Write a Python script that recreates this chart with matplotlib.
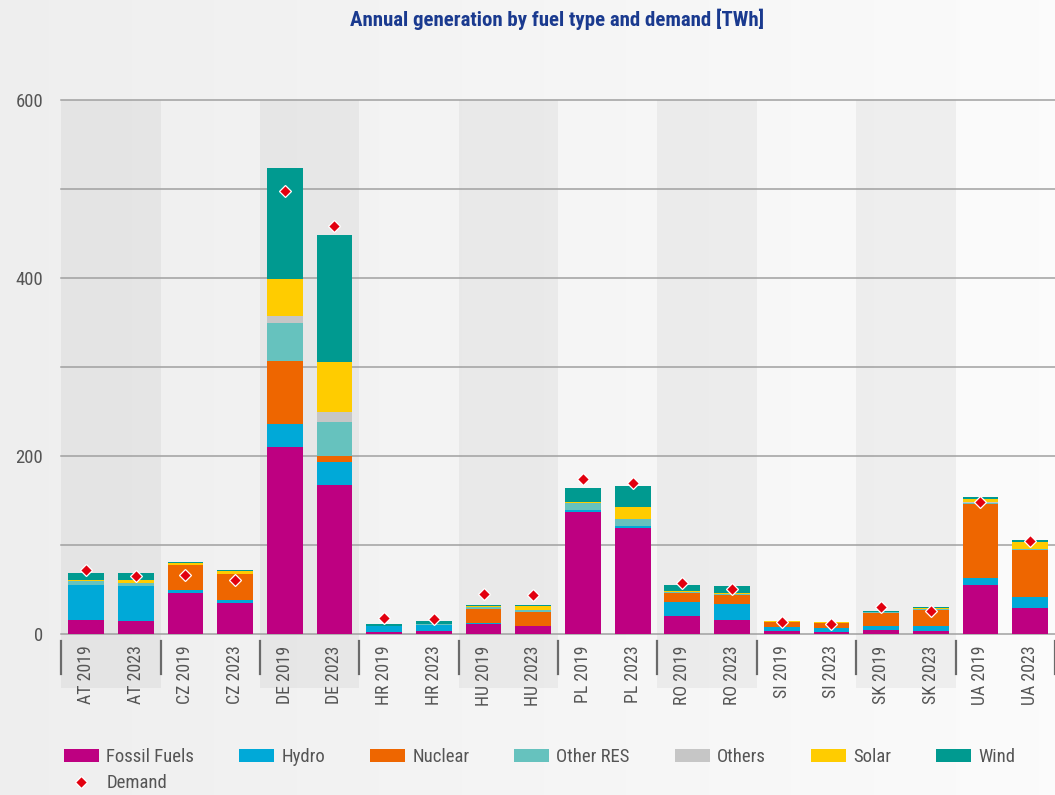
import numpy as np
import matplotlib
matplotlib.use("Agg")
import matplotlib.pyplot as plt
from matplotlib import font_manager
from matplotlib.patches import Rectangle
from matplotlib.lines import Line2D
import matplotlib.transforms as mtransforms

categories = ["AT 2019", "AT 2023", "CZ 2019", "CZ 2023", "DE 2019", "DE 2023",
              "HR 2019", "HR 2023", "HU 2019", "HU 2023", "PL 2019", "PL 2023",
              "RO 2019", "RO 2023", "SI 2019", "SI 2023", "SK 2019", "SK 2023",
              "UA 2019", "UA 2023"]
fossil = [16.0, 14.9, 46.4, 35.1, 210.6, 167.7, 2.9, 4.0, 11.6, 9.3, 137.4, 119.3,
          20.5, 16.0, 3.7, 2.6, 4.8, 3.7, 55.3, 29.5]
hydro = [39.3, 39.3, 3.7, 3.4, 25.8, 26.0, 6.8, 6.5, 0.8, 0.2, 2.2, 2.2,
         15.8, 18.4, 4.5, 4.8, 4.9, 6.0, 8.2, 12.4]
nuclear = [0, 0, 27.7, 29.2, 70.3, 6.8, 0, 0, 16.3, 15.5, 0, 0,
           10.0, 9.7, 5.6, 4.9, 14.2, 17.6, 82.7, 52.7]
other_res = [4.5, 3.4, 0, 0, 42.7, 37.8, 0, 1.1, 2.4, 2.3, 7.8, 8.3,
             1.1, 1.1, 0, 0, 1.1, 1.1, 1.2, 1.5]
others = [0, 0, 0, 0, 8.2, 11.2, 0, 0, 0, 0, 0, 0,
          0, 0, 0, 0, 0, 0, 1.1, 0]
solar = [1.5, 3.3, 2.2, 3.0, 41.2, 56.1, 0, 0, 1.1, 4.8, 1.1, 13.1,
         1.1, 1.1, 1.2, 1.5, 0.5, 1.1, 3.7, 7.5]
wind = [7.5, 7.9, 1.1, 1.5, 124.5, 142.6, 2.2, 3.7, 0.9, 1.1, 15.7, 23.6,
        6.7, 7.9, 0, 0, 0.7, 1.1, 1.9, 2.2]
demand = [72.5, 65.4, 66.6, 61.3, 497.5, 458.3, 18.6, 16.7, 45.6, 43.7, 174.0, 170.2,
          57.2, 50.8, 13.8, 11.6, 30.3, 26.2, 148.1, 104.4]
yticks = [0, 200, 400, 600]
title = "Annual generation by fuel type and demand [TWh]"

series = [("Fossil Fuels", fossil, "#BE0081"),
          ("Hydro", hydro, "#00A9D8"),
          ("Nuclear", nuclear, "#EE6600"),
          ("Other RES", other_res, "#66C2BE"),
          ("Others", others, "#C6C6C6"),
          ("Solar", solar, "#FFCC00"),
          ("Wind", wind, "#009A90")]

names = {f.name for f in font_manager.fontManager.ttflist}
font = "Roboto"
for cand in ["Roboto Condensed", "Liberation Sans Narrow", "Roboto"]:
    if cand in names:
        font = cand
        break
plt.rcParams["font.family"] = [font, "DejaVu Sans"]

fig = plt.figure(figsize=(10.55, 7.95), dpi=100)

# background gradient
bg = fig.add_axes([0, 0, 1, 1], zorder=-10)
grad = np.linspace(0.935, 0.985, 256).reshape(1, -1)
bg.imshow(np.dstack([grad, grad, grad]), aspect="auto", extent=[0, 1, 0, 1])
bg.set_axis_off()

ax = fig.add_axes([61.2 / 1055, 1 - 634.3 / 795, 1 - 61.2 / 1055, (634.3 - 99.7) / 795])
ax.set_facecolor("none")
n = len(categories)
x = np.arange(n)
ax.set_xlim(-0.5, n - 0.5)
ax.set_ylim(0, 600)

trans = mtransforms.blended_transform_factory(ax.transData, ax.transAxes)
# alternating bands per country
for k in range(0, n, 2):
    if (k // 2) % 2 == 0:
        ax.add_patch(Rectangle((k - 0.5, -0.1), 2, 1.1, transform=trans,
                               facecolor="black", alpha=0.045, edgecolor="none",
                               clip_on=False, zorder=0))
# separators below axis
for k in range(0, n + 1, 2):
    ax.add_line(Line2D([k - 0.5, k - 0.5], [-0.012, -0.074], transform=trans,
                       color="#6a6a6a", lw=1.6, clip_on=False, zorder=1))

# grid
for g in range(0, 601, 100):
    ax.axhline(g, color="#a0a0a0", lw=1.1, zorder=1, clip_on=False)

bottom = np.zeros(n)
handles = []
for label, vals, color in series:
    v = np.array(vals, dtype=float)
    b = ax.bar(x, v, width=0.72, bottom=bottom, color=color, zorder=3, label=label,
               linewidth=0)
    bottom += v
    handles.append(b)

dm, = ax.plot(x, demand, linestyle="none", marker="D", markersize=6.3,
              markerfacecolor="#E2000F", markeredgecolor="white", markeredgewidth=0.9,
              zorder=5, label="Demand")

for s in ax.spines.values():
    s.set_visible(False)
ax.set_yticks(yticks)
ax.set_yticklabels([str(t) for t in yticks], fontsize=13.5, color="#555555")
ax.tick_params(axis="y", length=0, pad=13)
ax.set_xticks(x)
ax.set_xticklabels(categories, rotation=90, fontsize=12.8, color="#555555")
ax.tick_params(axis="x", length=0, pad=8)

fig.text(557 / 1055, 1 - 19 / 795, title, ha="center", va="center",
         fontsize=15, fontweight="bold", color="#1A3A8F")

order = [handles[0], dm] + handles[1:]
labels = [h.get_label() for h in order]
leg = fig.legend(order, labels, loc="upper left", bbox_to_anchor=(64 / 1055, 1 - 748 / 795),
                 ncol=7, frameon=False, fontsize=13.5, handlelength=1.85, handleheight=0.7,
                 handletextpad=0.4, columnspacing=2.4, labelspacing=0.45, borderaxespad=0,
                 borderpad=0)
for t in leg.get_texts():
    t.set_color("#555555")

fig.savefig("out.png", dpi=100)
